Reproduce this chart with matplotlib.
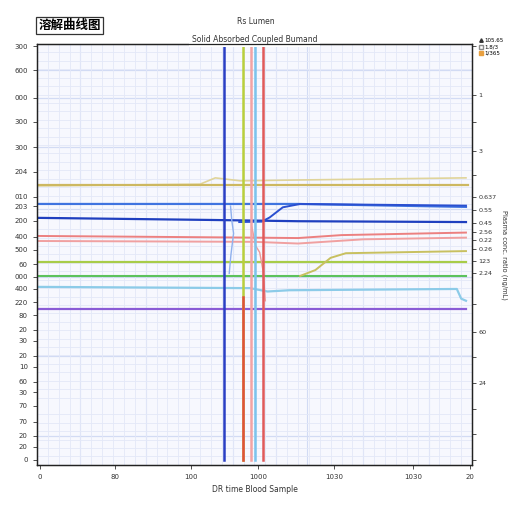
import numpy as np
import matplotlib.pyplot as plt
from matplotlib.ticker import MultipleLocator

plt.rcParams['font.family'] = ['DejaVu Sans', 'Noto Sans CJK SC']

# horizontal traces (x in run units, y in scale units)
gold_x = [0, 99]
gold_y = [66.5, 66.5]
gold2_x = [0, 37.5, 41, 46.7, 60.5, 98.6]
gold2_y = [66.3, 66.7, 68.2, 67.5, 67.7, 68.2]
blue_x = [0, 60, 98.6]
blue_y = [62.0, 62.0, 61.3]
navy_x = [0, 40, 60, 98.6]
navy_y = [58.7, 58.2, 57.9, 57.7]
navy2_x = [46.5, 51.7, 53.5, 56.5, 60.5, 98.6]
navy2_y = [57.7, 57.8, 58.8, 61.2, 62.0, 61.6]
red_x = [0, 50, 60, 70, 98.6]
red_y = [54.4, 54.0, 53.9, 54.6, 55.2]
red2_x = [0, 50, 60, 75, 98.6]
red2_y = [53.2, 53.0, 52.6, 53.6, 54.0]
lime_x = [0, 98.6]
lime_y = [48.2, 48.2]
green_x = [0, 60, 98.6]
green_y = [44.9, 44.9, 44.9]
olive_x = [60.5, 64, 67.5, 71, 98.6]
olive_y = [44.9, 46.3, 49.2, 50.3, 50.8]
sky_x = [0, 49, 53, 58, 96.5, 97.5, 98.6]
sky_y = [42.3, 42.0, 41.2, 41.5, 41.8, 39.5, 39.0]
purple_x = [0, 98.6]
purple_y = [37.1, 37.1]

# transition curves near the sampling markers
ltblue_x = [44.5, 44.8, 45.2, 44.6, 44.2]
ltblue_y = [61.5, 58.0, 55.0, 50.0, 45.5]
pink_x = [49.4, 50.3, 51.2, 52.0, 52.5]
pink_y = [56.5, 52.0, 50.5, 46.0, 39.0]

# vertical sampling markers
vmark_x = [43.0, 47.4, 49.2, 50.1, 52.0]
vmark_c = ['#2a3fc4', '#b9cf3c', '#f2a4a4', '#7cc4ec', '#e05a5a']
vmark_y = [1.2, 99.5]

left_tick_pos = [99.5, 93.8, 87.2, 81.5, 75.5, 69.6, 63.7, 61.5, 58.0, 54.2, 51.1, 47.7,
                 44.7, 41.8, 38.7, 35.6, 32.1, 29.5, 25.9, 23.3, 19.7, 17.3, 14.0, 10.2,
                 6.9, 4.3, 1.2]
left_tick_lab = ['300', '600', '000', '300', '300', '204', '010', '203', '200', '400', '500',
                 '60', '000', '400', '220', '80', '20', '30', '20', '10', '60', '30', '70',
                 '70', '20', '20', '0']
right_tick_pos = [99.5, 87.9, 81.5, 74.6, 68.9, 63.7, 60.6, 57.5, 55.3, 53.5, 51.3, 48.5,
                  45.6, 38.2, 31.6, 25.6, 19.5, 13.3, 7.4, 1.2]
right_tick_lab = ['', '1', '', '3', '', '0.637', '0.55', '0.45', '2.56', '0.22', '0.26',
                  '123', '2.24', '', '60', '', '24', '', '', '']
x_tick_pos = [0.7, 17.9, 35.4, 50.8, 68.3, 86.4, 99.5]
x_tick_lab = ['0', '80', '100', '1000', '1030', '1030', '20']

fig = plt.figure(figsize=(5.12, 5.12), dpi=100)
ax = fig.add_axes([0.072, 0.092, 0.85, 0.822])
ax.set_facecolor('#f7f8fe')
ax.set_xlim(0, 100)
ax.set_ylim(0, 100)

ax.xaxis.set_minor_locator(MultipleLocator(2.5))
ax.yaxis.set_minor_locator(MultipleLocator(2))
ax.grid(which='minor', color='#e3e8f8', lw=0.6)
for gx in [10, 25, 45, 55, 62, 75, 90]:
    ax.axvline(gx, color='#d2dbf4', lw=0.8, zorder=0)
for gy in [6.9, 25.9, 44.7, 60.8, 75.5, 87.2, 93.8]:
    ax.axhline(gy, color='#d2dbf4', lw=0.9, zorder=0)

ax.plot(gold2_x, gold2_y, color='#e0d49a', lw=1.2)
ax.plot(gold_x, gold_y, color='#cdb860', lw=1.6)
ax.plot(blue_x, blue_y, color='#3f74e0', lw=1.6)
ax.plot(navy_x, navy_y, color='#1f3fbf', lw=1.6)
ax.plot(navy2_x, navy2_y, color='#2a4fd0', lw=1.4)
ax.plot(red_x, red_y, color='#ec8080', lw=1.4)
ax.plot(red2_x, red2_y, color='#f0a0a0', lw=1.4)
ax.plot(lime_x, lime_y, color='#a8cc48', lw=1.6)
ax.plot(green_x, green_y, color='#5cc25c', lw=1.5)
ax.plot(olive_x, olive_y, color='#c8c060', lw=1.4)
ax.plot(sky_x, sky_y, color='#8ccbe8', lw=1.6)
ax.plot(purple_x, purple_y, color='#8a5cd6', lw=1.6)
ax.plot(ltblue_x, ltblue_y, color='#8fb0ee', lw=1.0)
ax.plot(pink_x, pink_y, color='#ec9a9a', lw=1.0)

for vx, vc in zip(vmark_x, vmark_c):
    ax.plot([vx, vx], vmark_y, color=vc, lw=1.8)
ax.plot([vmark_x[1], vmark_x[1]], [1.2, 40], color='#e0503c', lw=1.8)

ax.set_yticks(left_tick_pos)
ax.set_yticklabels(left_tick_lab)
ax.set_xticks(x_tick_pos)
ax.set_xticklabels(x_tick_lab)
ax.tick_params(labelsize=5, length=3, width=0.6, colors='#333333')
ax.tick_params(which='minor', length=0)
ax.set_xlabel('DR time Blood Sample', fontsize=5.5, labelpad=4, color='#333333')

ax2 = ax.twinx()
ax2.set_ylim(0, 100)
ax2.set_yticks(right_tick_pos)
ax2.set_yticklabels(right_tick_lab)
ax2.tick_params(labelsize=4.6, length=3, width=0.6, colors='#333333', pad=1.5)
ax2.set_ylabel('Plasma conc. ratio (ng/mL)', fontsize=4.8, rotation=-90,
               color='#333333', va='center')
ax2.yaxis.set_label_coords(1.075, 0.5)

for a in (ax, ax2):
    for s in a.spines.values():
        s.set_linewidth(0.9)
        s.set_color('#222222')

ax.set_title('Solid Absorbed Coupled Bumand', fontsize=5.5, pad=-3,
             bbox=dict(facecolor='white', edgecolor='none', pad=2), color='#333333')
fig.text(0.5, 0.953, 'Rs Lumen', fontsize=5.5, ha='center', color='#333333')
fig.text(0.075, 0.943, '溶解曲线图', fontsize=9, fontweight='bold',
         family=['Noto Sans CJK SC', 'DejaVu Sans'],
         bbox=dict(facecolor='white', edgecolor='#333333', lw=0.9, pad=1.5))

h1, = ax.plot([], [], marker='^', ls='none', color='#333333', ms=2.5)
h2, = ax.plot([], [], marker='s', ls='none', mfc='white', mec='#8a8a8a', ms=2.5)
h3, = ax.plot([], [], marker='s', ls='none', color='#e8a040', ms=2.5)
fig.legend([h1, h2, h3], ['105.65', '1.8/3', '1/365'], loc='upper left',
           bbox_to_anchor=(0.936, 0.925), fontsize=4, frameon=False,
           handlelength=0.8, handletextpad=0.2, labelspacing=0.2,
           borderaxespad=0, borderpad=0)

fig.savefig('out.png', dpi=100, facecolor='white')
